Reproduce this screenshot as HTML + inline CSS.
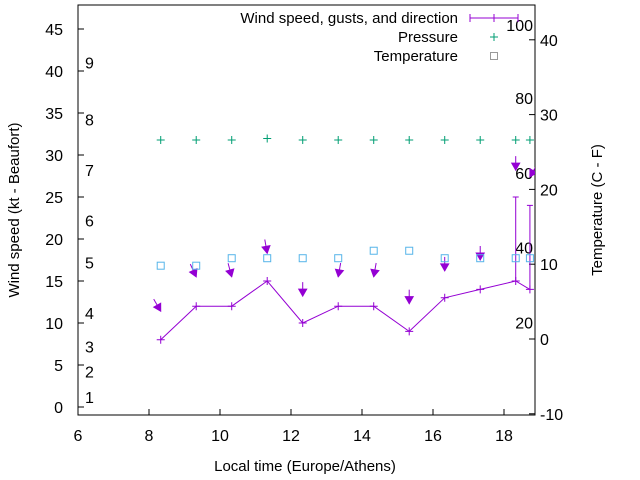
<!DOCTYPE html>
<html><head><meta charset="utf-8"><style>
body{margin:0;background:#fff}
svg{display:block;font-family:"Liberation Sans",sans-serif}
</style></head><body>
<svg id="c" width="640" height="480"></svg>
<script>
const times=[8.33,9.33,10.33,11.33,12.33,13.33,14.33,15.33,16.33,17.33,18.33,18.73];
const windSpeed=[8,12,12,15,10,12,12,9,13,14,15,14];
const gustTimes=[18.33,18.73];
const gustValues=[25,24];
const gustBase=[15,14];
const arrowPos=[11.4,15.5,15.5,18.3,13.2,15.5,15.5,12.3,16.2,17.5,28.2,27.4];
const arrowAngle=[30,25,15,10,0,-10,-10,0,0,0,0,-30];
const pressure=[26.6,26.6,26.6,26.8,26.6,26.6,26.6,26.6,26.6,26.6,26.6,26.6];
const temperature=[9.8,9.8,10.8,10.8,10.8,10.8,11.8,11.8,10.8,10.8,10.8,10.8];
const xTicks=[6,8,10,12,14,16,18];
const yTicks=[0,5,10,15,20,25,30,35,40,45];
const y2Ticks=[-10,0,10,20,30,40];
const beaufort=[[1,1.2],[2,4.2],[3,7.2],[4,11.2],[5,17.2],[6,22.2],[7,28.2],[8,34.2],[9,41]];
const fahr=[[20,2.2],[40,12.2],[60,22.2],[80,32.2],[100,42]];
const L=78,R=535,T=5,B=415;
const X=v=>78+(v-6)*35.5;
const Y=v=>407-v*8.4;
const Y2=v=>339-v*7.48;
const svg=document.getElementById('c');
const NS='http://www.w3.org/2000/svg';
function el(t,a,p){const e=document.createElementNS(NS,t);for(const k in a)e.setAttribute(k,a[k]);(p||svg).appendChild(e);return e;}
function txt(s,x,y,anchor,size,p){const e=el('text',{x:x,y:y,'text-anchor':anchor,'font-size':size||16,fill:'#000'},p);e.textContent=s;return e;}
const clip=el('clipPath',{id:'pc'});el('rect',{x:L,y:T,width:R-L,height:B-T},clip);
let f=el('rect',{x:L,y:T,width:R-L,height:B-T,fill:'none',stroke:'#000'});

xTicks.forEach(v=>{let x=X(v);el('line',{x1:x,y1:B,x2:x,y2:B-6,stroke:'#000'});let t=txt(v,x,441,'middle');});
yTicks.forEach(v=>{let y=Y(v);el('line',{x1:L,y1:y,x2:L+6,y2:y,stroke:'#000'});let t=txt(v,63,y+6,'end');});
y2Ticks.forEach(v=>{let y=Y2(v);el('line',{x1:R,y1:y,x2:R-6,y2:y,stroke:'#000'});let t=txt(v,540,y+6,'start');});
beaufort.forEach(b=>{let t=txt(b[0],85,Y(b[1])+6,'start');});
fahr.forEach(b=>{let t=txt(b[0],533,Y2(b[1])+6,'end');});
let xl=txt('Local time (Europe/Athens)',305,471,'middle',15);
let yl=txt('Wind speed (kt - Beaufort)',0,0,'middle',15);yl.setAttribute('transform','translate(19,210) rotate(-90)');
let y2l=txt('Temperature (C - F)',0,0,'middle',15);y2l.setAttribute('transform','translate(602,210) rotate(-90)');
const g=el('g',{'clip-path':'url(#pc)'});
const P='#9400d3';
// wind line
let pl=el('polyline',{points:times.map((t,i)=>X(t)+','+Y(windSpeed[i])).join(' '),fill:'none',stroke:P},g);

times.forEach((t,i)=>{let x=X(t),y=Y(windSpeed[i]);let m=el('path',{d:`M${x-4},${y}h8M${x},${y-4}v8`,stroke:P},g);});
gustTimes.forEach((t,i)=>{let x=X(t);let e=el('path',{d:`M${x},${Y(gustBase[i])}V${Y(gustValues[i])}M${x-3},${Y(gustValues[i])}h6`,stroke:P},g);});
// arrows
times.forEach((t,i)=>{let hx=X(t),hy=Y(arrowPos[i]);let a=arrowAngle[i]*Math.PI/180;let dx=Math.sin(a),dy=Math.cos(a);
let tx=hx-dx*14,ty=hy-dy*14;let px=-dy,py=dx;
let b1x=hx-dx*7+px*4,b1y=hy-dy*7+py*4,b2x=hx-dx*7-px*4,b2y=hy-dy*7-py*4;
let ag=el('g',{},g);
el('line',{x1:tx,y1:ty,x2:hx,y2:hy,stroke:P},ag);
el('polygon',{points:`${hx},${hy} ${b1x},${b1y} ${b2x},${b2y}`,fill:P,stroke:P},ag);});
// pressure
times.forEach((t,i)=>{let x=X(t),y=Y2(pressure[i]);let m=el('path',{d:`M${x-4},${y}h8M${x},${y-4}v8`,stroke:'#009e73'},g);});
// temperature
times.forEach((t,i)=>{let x=X(t),y=Y2(temperature[i]);let m=el('rect',{x:x-3.5,y:y-3.5,width:7,height:7,fill:'none',stroke:'#56b4e9'},g);});
// legend
const lg=el('g',{});
txt('Wind speed, gusts, and direction',458,23,'end',15,lg);
el('path',{d:'M470,18H518M470,14v8M518,14v8M494,14v8',stroke:P},lg);
txt('Pressure',458,42,'end',15,lg);
el('path',{d:'M490,37h8M494,33v8',stroke:'#009e73'},lg);
txt('Temperature',458,61,'end',15,lg);
el('rect',{x:490.5,y:52.5,width:7,height:7,fill:'none',stroke:'#999'},lg);
</script>
</body></html>
